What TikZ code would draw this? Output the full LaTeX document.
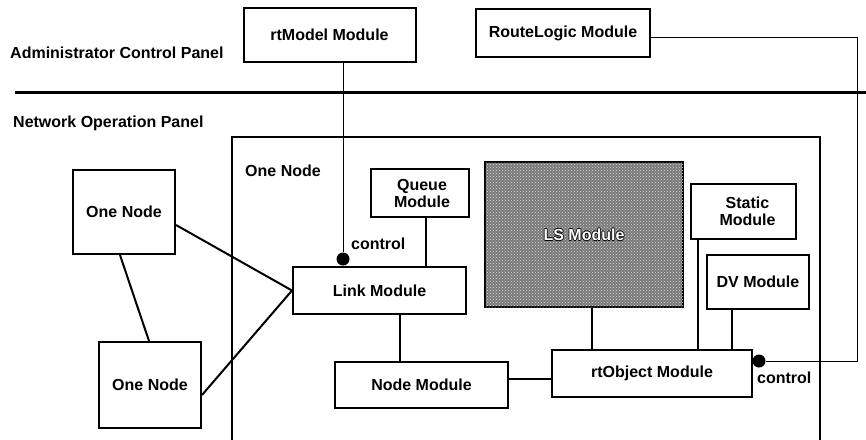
\documentclass[tikz,border=0pt]{standalone}
\usepackage{fontspec}
\setmainfont{Liberation Sans}
\usetikzlibrary{patterns,calc}
\newcommand\outltxt[1]{\leavevmode\rlap{\hspace{-0.8pt}\color{black}#1}\rlap{\hspace{0.8pt}\color{black}#1}\rlap{\raisebox{0.8pt}{\color{black}#1}}\rlap{\raisebox{-0.8pt}{\color{black}#1}}{\color{white}#1}}
\begin{document}
\begin{tikzpicture}[x=1pt,y=-1pt,
  box/.style={draw,line width=2pt,fill=white,inner sep=0pt,align=center,
    font=\bfseries\fontsize{16}{17}\selectfont},
  lbl/.style={inner sep=0pt,font=\bfseries\fontsize{16}{18}\selectfont},
  thinln/.style={line width=1pt},
  linkln/.style={line width=2pt},
  dotn/.style={circle,fill=black,inner sep=0pt,minimum size=13pt}]
\useasboundingbox (0,0) rectangle (866,439);

% panels
\node[lbl,anchor=west] (acp) at (10,53) {Administrator Control Panel};
\node[lbl,anchor=west] (nop) at (13,123) {Network Operation Panel};
\coordinate (sepA) at (15,92);
\coordinate (sepB) at (866,92);
\draw[line width=3pt] (sepA) -- (sepB);

% big node box
\node[draw,line width=2pt,minimum width=588pt,minimum height=320pt,inner sep=0pt] (big) at (526,297) {};
\node[lbl,anchor=west] (bigl) at (245,171) {One Node};

% modules
\node[box,minimum width=172pt,minimum height=54pt] (rtm) at (329.5,35) {rtModel Module};
\node[box,minimum width=174pt,minimum height=48pt] (rl) at (563,33) {RouteLogic Module};
\node[box,minimum width=102pt,minimum height=84pt] (on1) at (124,212) {One Node};
\node[box,minimum width=102pt,minimum height=86pt] (on2) at (150,385) {One Node};
\node[box,minimum width=98pt,minimum height=48pt] (queue) at (420,193) {\hspace*{4pt}Queue\\\hspace*{4pt}Module};
\node[box,minimum width=173pt,minimum height=47pt] (link) at (379.5,290.5) {Link Module};
\node[box,minimum width=173pt,minimum height=46pt] (nodem) at (421.5,385) {Node Module};
\node[box,fill=black!52,minimum width=198pt,minimum height=145pt,
  postaction={pattern=crosshatch dots,pattern color=black!15}] (ls) at (584,234.5) {\outltxt{LS Module}};
\node[box,minimum width=105pt,minimum height=55pt] (static) at (743.5,211.5) {\hspace*{8pt}Static\\\hspace*{8pt}Module};
\node[box,minimum width=102pt,minimum height=54pt] (dv) at (758,282) {DV Module};
\node[box,minimum width=200pt,minimum height=47pt] (rto) at (652,373.5) {rtObject Module};

% control from rtModel
\node[dotn] (d1) at (343,259) {};
\draw[thinln] (rtm.south -| d1) -- (d1);
\node[lbl,anchor=west] (c1) at (351,244) {control};

% control from RouteLogic
\coordinate (r1) at (857,37);
\coordinate (r2) at (857,361);
\node[dotn] (d2) at (759,361) {};
\draw[thinln] ($(rl.east)+(0,4)$) -- (r1) -- (r2) -- (d2);
\node[lbl,anchor=west] (c2) at (757,378) {control};

% links
\draw[linkln] ($(on1.east)+(0,13)$) -- (link.west);
\draw[linkln] ($(on2.east)+(0,10)$) -- (link.west);
\draw[linkln] ($(on1.south)+(-4,0)$) -- ($(on2.north)+(-1,0)$);
\draw[linkln] ($(queue.south)+(6,0)$) -- ($(link.north)+(46.5,0)$);
\draw[linkln] ($(link.south)+(20.5,0)$) -- ($(nodem.north)+(-21.5,0)$);
\draw[linkln] ($(nodem.east)+(0,-6)$) -- ($(rto.west)+(0,5.5)$);
\draw[linkln] ($(ls.south)+(8,0)$) -- ($(rto.north)+(-60,0)$);
\draw[linkln] ($(static.south)+(-45.5,0)$) -- ($(rto.north)+(46,0)$);
\draw[linkln] ($(dv.south)+(-26,0)$) -- ($(rto.north)+(80,0)$);
\end{tikzpicture}
\end{document}
